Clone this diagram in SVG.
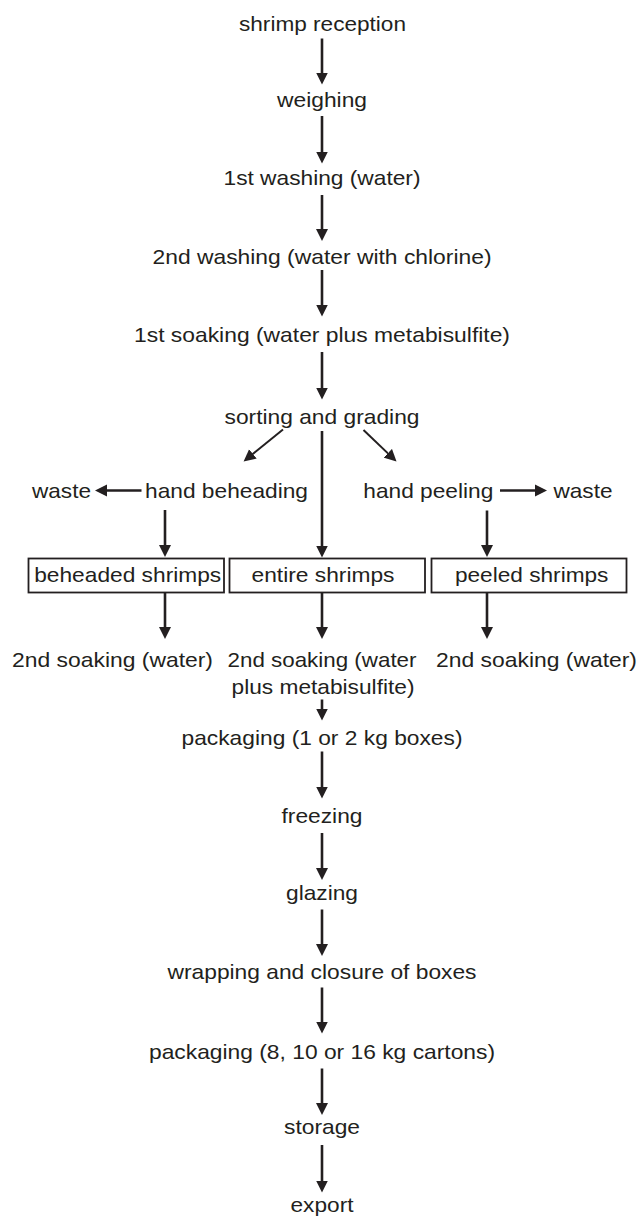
<svg xmlns="http://www.w3.org/2000/svg" width="638" height="1216" viewBox="0 0 638 1216">
<defs>
<style>
text{font-family:"Liberation Sans",Arial,Helvetica,sans-serif;font-size:21px;fill:#231f20;text-anchor:middle}
.ln{stroke:#231f20;stroke-width:2.6;fill:none;marker-end:url(#ah)}
.dg{stroke:#231f20;stroke-width:2;fill:none;marker-end:url(#ah)}
.box{fill:#fff;stroke:#231f20;stroke-width:1.8}
</style>
<marker id="ah" viewBox="0 0 13 13" markerWidth="13" markerHeight="13" refX="0.5" refY="6.5" orient="auto" markerUnits="userSpaceOnUse">
<path d="M0,0.5 L12,6.5 L0,12.5 z" fill="#231f20"/>
</marker>
</defs>
<rect width="638" height="1216" fill="#fff"/>
<g id="connectors">
<line class="ln" x1="322" y1="38.5" x2="322" y2="73"/>
<line class="ln" x1="322" y1="116" x2="322" y2="152"/>
<line class="ln" x1="322" y1="195" x2="322" y2="229.5"/>
<line class="ln" x1="322" y1="270" x2="322" y2="305"/>
<line class="ln" x1="322" y1="352" x2="322" y2="388"/>
<line class="ln" x1="322" y1="431" x2="322" y2="546"/>
<line class="dg" x1="283" y1="429.5" x2="252.5" y2="454.2"/>
<line class="dg" x1="363.5" y1="430" x2="388.2" y2="453.6"/>
<line class="ln" x1="165" y1="510" x2="165" y2="545.5"/>
<line class="ln" x1="487" y1="510.5" x2="487" y2="545.5"/>
<line class="ln" x1="141.5" y1="490.5" x2="106.5" y2="490.5"/>
<line class="ln" x1="500" y1="490.5" x2="535.5" y2="490.5"/>
<line class="ln" x1="165" y1="593" x2="165" y2="627.5"/>
<line class="ln" x1="322" y1="593" x2="322" y2="627.5"/>
<line class="ln" x1="487" y1="593" x2="487" y2="627.5"/>
<line class="ln" x1="322" y1="699.5" x2="322" y2="709"/>
<line class="ln" x1="322" y1="751.5" x2="322" y2="787"/>
<line class="ln" x1="322" y1="833" x2="322" y2="868.5"/>
<line class="ln" x1="322" y1="909.5" x2="322" y2="944.5"/>
<line class="ln" x1="322" y1="987.5" x2="322" y2="1022"/>
<line class="ln" x1="322" y1="1068.5" x2="322" y2="1103.5"/>
<line class="ln" x1="322" y1="1145" x2="322" y2="1181"/>
</g>
<g id="n-reception"><text x="322.5" y="31" textLength="167" lengthAdjust="spacingAndGlyphs">shrimp reception</text></g>
<g id="n-weighing"><text x="322" y="107" textLength="90" lengthAdjust="spacingAndGlyphs">weighing</text></g>
<g id="n-wash1"><text x="322" y="185" textLength="197" lengthAdjust="spacingAndGlyphs">1st washing (water)</text></g>
<g id="n-wash2"><text x="322" y="263.5" textLength="339" lengthAdjust="spacingAndGlyphs">2nd washing (water with chlorine)</text></g>
<g id="n-soak1"><text x="322" y="342" textLength="376" lengthAdjust="spacingAndGlyphs">1st soaking (water plus metabisulfite)</text></g>
<g id="n-sorting"><text x="322" y="423.5" textLength="195" lengthAdjust="spacingAndGlyphs">sorting and grading</text></g>
<g id="n-waste-left"><text x="61.5" y="498" textLength="59" lengthAdjust="spacingAndGlyphs">waste</text></g>
<g id="n-beheading"><text x="226.5" y="498" textLength="163" lengthAdjust="spacingAndGlyphs">hand beheading</text></g>
<g id="n-peeling"><text x="428.3" y="498" textLength="130" lengthAdjust="spacingAndGlyphs">hand peeling</text></g>
<g id="n-waste-right"><text x="583" y="498" textLength="59" lengthAdjust="spacingAndGlyphs">waste</text></g>
<g id="n-beheaded"><rect class="box" x="28.5" y="558.5" width="195.5" height="34"/><text x="127.7" y="582" textLength="187" lengthAdjust="spacingAndGlyphs">beheaded shrimps</text></g>
<g id="n-entire"><rect class="box" x="229.5" y="558.5" width="195.5" height="34"/><text x="323" y="582" textLength="143" lengthAdjust="spacingAndGlyphs">entire shrimps</text></g>
<g id="n-peeled"><rect class="box" x="431.5" y="558.5" width="195" height="34"/><text x="531.7" y="582" textLength="153.5" lengthAdjust="spacingAndGlyphs">peeled shrimps</text></g>
<g id="n-soak2-left"><text x="112.5" y="667" textLength="201" lengthAdjust="spacingAndGlyphs">2nd soaking (water)</text></g>
<g id="n-soak2-mid"><text x="322" y="667" textLength="189" lengthAdjust="spacingAndGlyphs">2nd soaking (water</text><text x="323" y="694" textLength="183" lengthAdjust="spacingAndGlyphs">plus metabisulfite)</text></g>
<g id="n-soak2-right"><text x="536.5" y="667" textLength="201" lengthAdjust="spacingAndGlyphs">2nd soaking (water)</text></g>
<g id="n-pack1"><text x="322" y="745" textLength="281" lengthAdjust="spacingAndGlyphs">packaging (1 or 2 kg boxes)</text></g>
<g id="n-freezing"><text x="322" y="823" textLength="81" lengthAdjust="spacingAndGlyphs">freezing</text></g>
<g id="n-glazing"><text x="322" y="900" textLength="72" lengthAdjust="spacingAndGlyphs">glazing</text></g>
<g id="n-wrapping"><text x="322" y="978.5" textLength="309" lengthAdjust="spacingAndGlyphs">wrapping and closure of boxes</text></g>
<g id="n-pack2"><text x="322" y="1058.5" textLength="346" lengthAdjust="spacingAndGlyphs">packaging (8, 10 or 16 kg cartons)</text></g>
<g id="n-storage"><text x="322" y="1133.5" textLength="76" lengthAdjust="spacingAndGlyphs">storage</text></g>
<g id="n-export"><text x="322" y="1211.5" textLength="63" lengthAdjust="spacingAndGlyphs">export</text></g>
</svg>
